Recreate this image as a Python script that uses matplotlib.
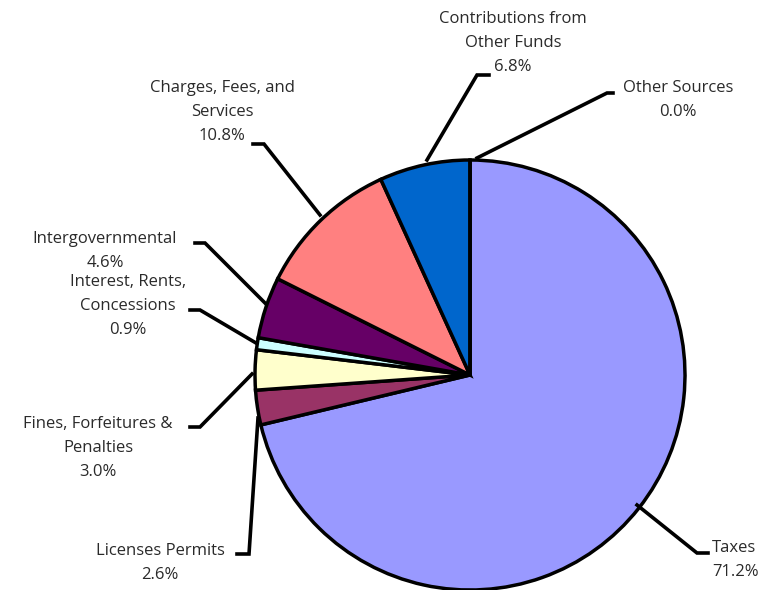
import matplotlib
matplotlib.use("Agg")
import matplotlib.pyplot as plt

# revenue sources, clockwise from 12 o'clock
labels = ["Taxes", "Licenses Permits", "Fines, Forfeitures &\nPenalties",
          "Interest, Rents,\nConcessions", "Intergovernmental",
          "Charges, Fees, and\nServices", "Contributions from\nOther Funds",
          "Other Sources"]
shares = [71.2, 2.6, 3.0, 0.9, 4.6, 10.8, 6.8, 0.0]
colors = ["#9999FF", "#993366", "#FFFFCC", "#CCFFFF", "#660066",
          "#FF8080", "#0066CC", "#CCCCFF"]

H = 590
# label layout in pixel coords: (text x, text y, ha, leader points)
layout = [
    (712, 560, "left", [(637, 505), (697, 553), (708, 553)]),
    (160, 563, "center", [(258, 418), (249, 554), (237, 554)]),
    (98, 448, "center", [(252, 374), (200, 427), (190, 427)]),
    (128, 306, "center", [(256, 343), (200, 310), (190, 310)]),
    (105, 251, "center", [(265, 303), (205, 243), (195, 243)]),
    (222, 112, "center", [(320, 215), (264, 144), (253, 144)]),
    (513, 43, "center", [(427, 160), (477, 75), (489, 75)]),
    (678, 100, "center", [(477, 158), (607, 93), (613, 93)]),
]

fig = plt.figure(figsize=(7.65, 5.9), dpi=100)
ax = fig.add_axes([0, 0, 1, 1])
ax.set_xlim(0, 765)
ax.set_ylim(0, H)
ax.set_aspect("equal")
ax.axis("off")

ax.pie(shares, colors=colors, startangle=90, counterclock=False,
       center=(470, H - 375), radius=215,
       wedgeprops=dict(edgecolor="black", linewidth=2.5))
ax.set_xlim(0, 765)
ax.set_ylim(0, H)

for lab, val, (tx, ty, ha, pts) in zip(labels, shares, layout):
    xs = [p[0] for p in pts]
    ys = [H - p[1] for p in pts]
    ax.plot(xs, ys, color="black", lw=2.6, solid_joinstyle="miter")
    ax.text(tx, H - ty, f"{lab}\n{val:.1f}%", ha=ha, va="center",
            multialignment="center" if ha == "center" else "left",
            fontsize=12, family="Open Sans", color="#2a2a2a",
            linespacing=1.65)

fig.savefig("out.png", dpi=100)
